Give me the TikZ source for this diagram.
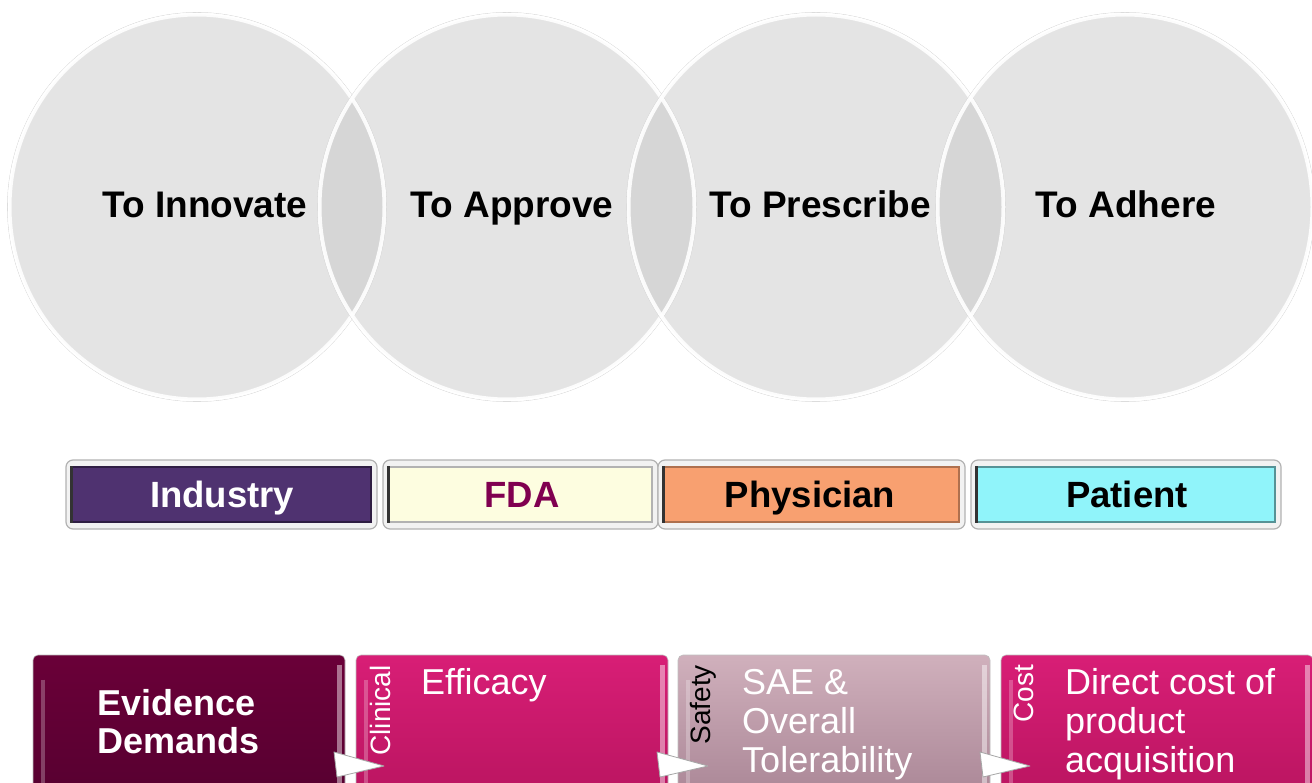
\documentclass[tikz,border=0pt]{standalone}
\usepackage{fontspec}
\setmainfont{Liberation Sans}
\usetikzlibrary{shapes.geometric}
\definecolor{bubblegray}{HTML}{C4C4C4}
\definecolor{industry}{HTML}{4F3270}
\definecolor{fdafill}{HTML}{FDFDE0}
\definecolor{fdatext}{HTML}{800050}
\definecolor{physician}{HTML}{F8A070}
\definecolor{patient}{HTML}{90F4FA}
\definecolor{evid}{HTML}{6A0038}
\definecolor{evidlo}{HTML}{560030}
\definecolor{pinkhi}{HTML}{D81E76}
\definecolor{pinklo}{HTML}{B8145F}
\definecolor{mauvehi}{HTML}{D0B0BC}
\definecolor{mauvelo}{HTML}{A88494}
\tikzset{
  bubble/.style={ellipse, minimum width=375pt, minimum height=385pt, inner sep=0pt,
    fill=bubblegray, fill opacity=0.45, text opacity=1, draw=none},
  rim/.style={ellipse, minimum width=375pt, minimum height=385pt, inner sep=0pt,
    draw=white, line width=4pt, draw opacity=0.9},
  rimout/.style={ellipse, minimum width=379pt, minimum height=389pt, inner sep=0pt,
    draw=gray!40, line width=0.6pt},
  bubbletext/.style={inner sep=0pt, anchor=base, font=\fontsize{37}{40}\selectfont\bfseries},
  tagframe/.style={rectangle, rounded corners=7pt, fill=gray!10, draw=gray!60, line width=1.2pt, inner sep=0pt},
  taginner/.style={rectangle, minimum height=55pt, inner sep=0pt, line width=1.5pt},
  tagtext/.style={inner sep=0pt, anchor=base, font=\fontsize{36.5}{40}\selectfont\bfseries},
  evbox/.style={rectangle, rounded corners=5pt, minimum width=312pt, minimum height=150pt, inner sep=0pt, draw=gray!50, line width=0.6pt},
  fold/.style={fill=white, draw=gray!70, line width=0.8pt, line join=round},
  bodytext/.style={inner sep=0pt, align=left, text=white, font=\fontsize{36}{39}\selectfont},
  sidetext/.style={inner sep=0pt, rotate=90, anchor=east, font=\fontsize{28}{30}\selectfont}
}
\begin{document}
\begin{tikzpicture}[x=1pt,y=-1pt]
\useasboundingbox (0,0) rectangle (1312,783);
\clip (0,0) rectangle (1312,783);
% bubbles
\node[bubble] (b1) at (197,207) {};
\node[bubble] (b2) at (507,207) {};
\node[bubble] (b3) at (816,207) {};
\node[bubble] (b4) at (1125,207) {};
\foreach \n in {b1,b2,b3,b4} {
  \node[rimout] at (\n.center) {};
  \node[rim] at (\n.center) {};
}
\node[bubbletext] (t1) at (205,218) {To Innovate};
\node[bubbletext] (t2) at (512,218) {To Approve};
\node[bubbletext] (t3) at (820,218) {To Prescribe};
\node[bubbletext] (t4) at (1126,218) {To Adhere};
% stakeholder tags
\node[tagframe, minimum width=311pt, minimum height=69pt] (f1) at (221.5,494.5) {};
\node[tagframe, minimum width=275pt, minimum height=69pt] (f2) at (520.5,494.5) {};
\node[tagframe, minimum width=307pt, minimum height=69pt] (f3) at (811.5,494.5) {};
\node[tagframe, minimum width=310pt, minimum height=69pt] (f4) at (1126,494.5) {};
\node[taginner, minimum width=299pt, fill=industry, draw=industry!60!black] (ind) at (f1.center) {};
\node[taginner, minimum width=263pt, fill=fdafill, draw=gray!60] (fda) at (f2.center) {};
\node[taginner, minimum width=295pt, fill=physician, draw=physician!70!black] (phy) at (f3.center) {};
\node[taginner, minimum width=298pt, fill=patient, draw=patient!60!black] (pat) at (f4.center) {};
\draw[line width=3pt, black!80] (ind.north west) -- (ind.south west);
\draw[line width=3pt, black!80] (fda.north west) -- (fda.south west);
\draw[line width=3pt, black!80] (phy.north west) -- (phy.south west);
\draw[line width=3pt, black!80] (pat.north west) -- (pat.south west);
\node[tagtext, text=white] (indt) at (222,507) {Industry};
\node[tagtext, text=fdatext] (fdat) at (522,507) {FDA};
\node[tagtext, text=black] (phyt) at (810,507) {Physician};
\node[tagtext, text=black] (patt) at (1127,507) {Patient};
% evidence boxes
\node[evbox, top color=evid, bottom color=evidlo] (ev) at (189,730) {};
\node[evbox, top color=pinkhi, bottom color=pinklo] (eff) at (512,730) {};
\node[evbox, top color=mauvehi, bottom color=mauvelo] (saf) at (834,730) {};
\node[evbox, top color=pinkhi, bottom color=pinklo] (cost) at (1157,730) {};
\foreach \n in {ev,eff,saf,cost} {
  \draw[white, opacity=0.45, line width=5pt] ([xshift=-6pt,yshift=-10pt]\n.north east) -- ([xshift=-6pt]\n.south east);
  \draw[white, opacity=0.25, line width=4pt] ([xshift=10pt,yshift=-25pt]\n.north west) -- ([xshift=10pt]\n.south west);
}
\node[bodytext, font=\fontsize{36}{38}\selectfont\bfseries, anchor=base west] (evt) at (97,753) {Evidence\\Demands};
\node[bodytext, anchor=base west] (efft) at (421,694) {Efficacy};
\node[bodytext, anchor=base west] (saft) at (742,772) {SAE \&\\Overall\\Tolerability};
\node[bodytext, anchor=base west] (costt) at (1065,772) {Direct cost of\\product\\acquisition};
\node[sidetext, text=white] (cl) at (380,665) {Clinical};
\node[sidetext, text=black] (sf) at (703,665) {Safety};
\node[sidetext, text=white] (cs) at (1024,665) {Cost};
% fold arrows
\coordinate (a1) at (334,752); \coordinate (a2) at (384,766); \coordinate (a3) at (337,777);
\draw[fold] (a1) -- (a2) -- (a3) -- cycle;
\coordinate (c1) at (657,752); \coordinate (c2) at (708,766); \coordinate (c3) at (660,777);
\draw[fold] (c1) -- (c2) -- (c3) -- cycle;
\coordinate (d1) at (980,752); \coordinate (d2) at (1030,766); \coordinate (d3) at (983,777);
\draw[fold] (d1) -- (d2) -- (d3) -- cycle;
\end{tikzpicture}
\end{document}
